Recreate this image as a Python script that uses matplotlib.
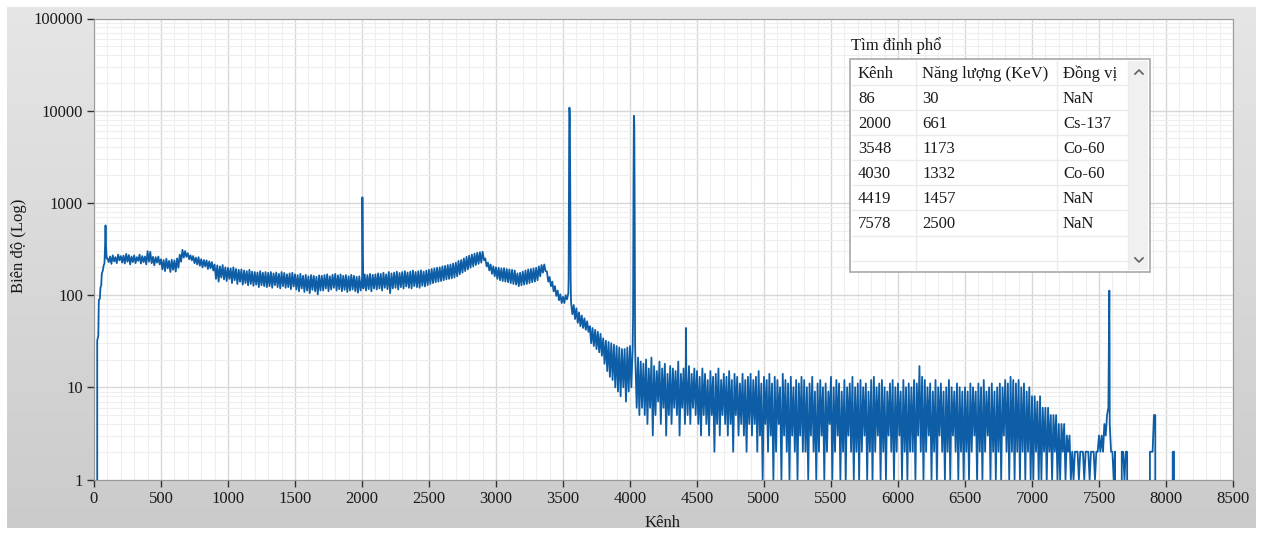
import numpy as np
import matplotlib
matplotlib.use("Agg")
import matplotlib.pyplot as plt
from matplotlib.ticker import MultipleLocator, LogLocator, FuncFormatter, NullFormatter

plt.rcParams['font.family'] = ['Liberation Serif', 'DejaVu Serif']

W, H = 1263, 533

# spectrum, channels 100, 120, ..., 8100 (upper side of the noise)
counts_even = [
    250, 262, 270, 258, 275, 265, 268, 280, 272, 262, 270, 258, 275, 265, 262, 300, 295, 260, 258, 262,
    245, 240, 248, 235, 242, 238, 250, 275, 310, 300, 285, 270, 265, 255, 258, 245, 240, 238, 232, 228,
    215, 210, 205, 212, 200, 198, 195, 200, 192, 188, 190, 185, 182, 188, 180, 178, 176, 182, 175, 178,
    175, 178, 172, 176, 170, 178, 174, 168, 172, 175, 168, 165, 170, 162, 166, 160, 165, 162, 158, 164,
    162, 165, 168, 160, 166, 170, 164, 168, 162, 165, 160, 166, 162, 158, 160, 150, 168, 165, 170, 166,
    168, 172, 170, 175, 168, 178, 172, 176, 180, 174, 178, 182, 176, 180, 185, 178, 182, 186, 180, 185,
    188, 192, 195, 198, 200, 205, 208, 212, 215, 220, 225, 235, 240, 250, 260, 268, 275, 282, 288, 292,
    295, 250, 225, 215, 205, 200, 198, 195, 196, 192, 190, 188, 185, 172, 175, 180, 185, 190, 192, 195,
    198, 205, 212, 215, 180, 157, 140, 125, 112, 102, 96, 100, 105, 84, 78, 72, 65, 60, 56, 52,
    46, 44, 42, 40, 38, 34, 32, 31, 30, 29, 28, 27, 26, 26, 27, 28, 27, 20, 21, 19,
    18, 20, 16, 21, 17, 15, 19, 16, 18, 14, 17, 16, 15, 19, 14, 16, 15, 17, 14, 16,
    15, 13, 16, 14, 12, 15, 13, 14, 16, 12, 14, 13, 15, 12, 14, 13, 11, 14, 12, 13,
    14, 12, 13, 15, 11, 13, 12, 14, 11, 13, 12, 10, 14, 12, 11, 13, 10, 12, 11, 13,
    12, 10, 11, 13, 9, 11, 12, 10, 11, 9, 13, 10, 12, 11, 9, 12, 10, 11, 13, 10,
    11, 12, 10, 11, 9, 12, 13, 10, 11, 12, 10, 9, 11, 12, 10, 11, 9, 12, 10, 11,
    10, 12, 11, 17, 13, 12, 10, 11, 9, 12, 10, 11, 9, 10, 12, 10, 9, 11, 10, 9,
    10, 9, 11, 10, 9, 11, 10, 12, 9, 10, 11, 9, 10, 11, 10, 12, 11, 13, 12, 11,
    12, 10, 11, 9, 10, 8, 8, 7, 8, 6, 6, 6, 5, 5, 5, 4, 4, 4, 3, 3,
    2, 2, 2, 2, 2, 2, 2, 2, 2, 2, 3, 3, 4, 5, 4, 2, 2, 0, 0, 2,
    2, 0, 0, 0, 0, 0, 0, 0, 0, 2, 2, 5, 0, 0, 0, 0, 0, 0, 2, 0,
    0,
]

# channels 110, 130, ..., 8090 (lower side of the noise)
counts_odd = [
    228, 218, 232, 222, 238, 225, 220, 230, 215, 228, 222, 235, 220, 228, 215, 230, 222, 210, 225, 215,
    190, 182, 195, 178, 188, 180, 198, 230, 255, 260, 245, 238, 222, 215, 208, 200, 205, 192, 195, 185,
    150, 140, 155, 148, 142, 150, 135, 145, 132, 140, 130, 135, 128, 132, 126, 130, 122, 128, 125, 122,
    125, 120, 128, 122, 118, 125, 120, 122, 116, 124, 115, 110, 118, 108, 112, 105, 114, 110, 102, 112,
    112, 118, 110, 115, 120, 112, 116, 110, 114, 108, 112, 115, 110, 106, 112, 118, 112, 116, 110, 118,
    115, 118, 112, 120, 116, 105, 118, 120, 115, 122, 118, 124, 120, 118, 125, 122, 120, 126, 124, 128,
    132, 135, 138, 140, 142, 145, 148, 150, 152, 155, 160, 168, 175, 182, 190, 198, 205, 212, 218, 225,
    240, 205, 185, 170, 160, 150, 145, 142, 140, 138, 135, 132, 130, 125, 128, 130, 132, 135, 138, 140,
    145, 160, 175, 182, 140, 125, 110, 98, 88, 82, 82, 90, 9500, 62, 55, 50, 46, 44, 42, 40,
    30, 28, 26, 24, 22, 18, 15, 13, 12, 10, 9, 8, 10, 7, 9, 10, 8600, 6, 5, 6,
    5, 4, 6, 3, 5, 7, 4, 6, 3, 5, 4, 6, 5, 3, 6, 4, 5, 4, 6, 5,
    4, 3, 5, 4, 3, 5, 2, 4, 3, 5, 4, 3, 4, 2, 5, 3, 4, 3, 2, 4,
    3, 4, 2, 3, 1, 4, 2, 3, 1, 2, 4, 1, 3, 2, 1, 3, 2, 1, 3, 2,
    2, 1, 3, 2, 1, 2, 3, 1, 2, 4, 1, 2, 3, 1, 2, 1, 3, 2, 1, 2,
    1, 2, 3, 1, 2, 1, 2, 3, 1, 2, 1, 3, 2, 1, 2, 3, 1, 2, 1, 2,
    2, 1, 3, 2, 1, 2, 3, 1, 2, 1, 3, 2, 1, 2, 1, 3, 2, 1, 2, 1,
    2, 1, 2, 3, 1, 2, 1, 2, 3, 1, 2, 1, 2, 1, 3, 2, 1, 2, 1, 2,
    1, 2, 1, 2, 1, 1, 2, 1, 1, 2, 1, 2, 1, 2, 1, 1, 2, 1, 2, 1,
    1, 2, 1, 2, 1, 2, 1, 2, 1, 2, 2, 2, 3, 6, 2, 1, 0, 0, 2, 1,
    2, 0, 0, 0, 0, 0, 0, 0, 0, 2, 5, 0, 0, 0, 0, 0, 0, 2, 0, 0,
]

# low-energy edge and X-ray peak
edge_channels = [0, 22, 24, 32, 36, 44, 48, 54, 58, 66, 72, 78, 82, 86, 90, 94]
edge_counts = [0, 0, 32, 36, 88, 92, 120, 128, 170, 185, 210, 220, 320, 570, 330, 250]

# narrow photopeaks
peak_channels = [2001, 2003, 2006, 2009,
                 3542, 3544, 3546, 3548, 3551, 3554, 3557,
                 4023, 4026, 4029, 4032, 4035, 4038,
                 4416, 4418,
                 7574, 7577, 7579]
peak_counts = [160, 1150, 300, 150,
               150, 1200, 6000, 10800, 8000, 1500, 150,
               60, 1500, 8800, 7000, 800, 30,
               12, 44,
               40, 112, 30]

# peak table
tbl_channel = [86, 2000, 3548, 4030, 4419, 7578]
tbl_energy = [30, 661, 1173, 1332, 1457, 2500]
tbl_isotope = ['NaN', 'Cs-137', 'Co-60', 'Co-60', 'NaN', 'NaN']
tbl_header = ['Kênh', 'Năng lượng (KeV)', 'Đồng vị']

even_ch = 100 + 20 * np.arange(len(counts_even))
odd_ch = 110 + 20 * np.arange(len(counts_odd))
ch = np.concatenate([edge_channels, even_ch, odd_ch, peak_channels])
ct = np.concatenate([edge_counts, counts_even, counts_odd, peak_counts]).astype(float)
order = np.argsort(ch, kind='stable')
ch, ct = ch[order], ct[order]

fig = plt.figure(figsize=(W / 100, H / 100), dpi=100)

# gray gradient panel behind everything
bg = fig.add_axes([0, 0, 1, 1])
bg.set_zorder(0)
bg.axis('off')
grad = np.linspace(0, 1, 256)[:, None]
cmap = matplotlib.colors.LinearSegmentedColormap.from_list('g', ['#e6e6e6', '#cbcbcb'])
bg.imshow(grad, cmap=cmap, extent=[7, 1256, 528, 7], aspect='auto')
bg.set_xlim(0, W)
bg.set_ylim(H, 0)


def frac(x, y):
    return x / W, 1 - y / H


left, top = frac(94, 18.5)
right, bottom = frac(1233, 479.5)
ax = fig.add_axes([left, bottom, right - left, top - bottom])
ax.set_zorder(1)
ax.set_facecolor('white')

ax.plot(ch, ct, color='#0d5ea6', lw=1.3, zorder=3)
ax.set_yscale('log')
ax.set_xlim(0, 8500)
ax.set_ylim(1, 100000)

ax.xaxis.set_major_locator(MultipleLocator(500))
ax.xaxis.set_minor_locator(MultipleLocator(100))
ax.yaxis.set_major_locator(LogLocator(base=10))
ax.yaxis.set_minor_locator(LogLocator(base=10, subs=np.arange(2, 10)))
ax.yaxis.set_major_formatter(FuncFormatter(lambda v, _: f'{v:g}'))
ax.yaxis.set_minor_formatter(NullFormatter())

ax.grid(which='major', color='#d8d8d8', lw=1.0, zorder=0)
ax.grid(which='minor', color='#eeeeee', lw=0.8, zorder=0)
ax.set_axisbelow(True)
ax.tick_params(which='major', direction='out', length=5, width=1, color='#303030',
               labelsize=12, labelcolor='#1a1a1a', pad=3)
ax.tick_params(which='minor', length=0)
for s in ax.spines.values():
    s.set_color('#9a9a9a')
    s.set_linewidth(0.8)

# overlay for labels and the peak table, in pixel coordinates
ov = fig.add_axes([0, 0, 1, 1])
ov.set_zorder(2)
ov.axis('off')
ov.set_xlim(0, W)
ov.set_ylim(H, 0)
ov.patch.set_alpha(0)

ov.text(19, 246, 'Biên độ (Log)', rotation=90, ha='center', va='center', fontsize=12, color='#1a1a1a')
ov.text(663, 523, 'Kênh', ha='center', va='center', fontsize=12, color='#1a1a1a')

ov.text(851, 46, 'Tìm đỉnh phổ', ha='left', va='center', fontsize=12, color='#1a1a1a')
ov.add_patch(plt.Rectangle((850, 59), 300, 213, facecolor='white', edgecolor='#a8a8a8', lw=1.2))
ov.add_patch(plt.Rectangle((1129, 61), 19, 209, facecolor='#f0f0f0', edgecolor='none'))
for y in [85, 110, 135, 160, 185, 210, 236, 261]:
    ov.plot([852, 1128], [y, y], color='#ebebeb', lw=1)
for x in [916, 1057, 1128]:
    ov.plot([x, x], [61, 270], color='#ebebeb', lw=1)
ov.plot([1135, 1139, 1143], [74, 70, 74], color='#606060', lw=1.2)
ov.plot([1135, 1139, 1143], [258, 262, 258], color='#606060', lw=1.2)

col_x = [858, 922, 1063]
for x, t in zip(col_x, tbl_header):
    ov.text(x, 74, t, ha='left', va='center', fontsize=12, color='#1a1a1a')
for i, (c, e, iso) in enumerate(zip(tbl_channel, tbl_energy, tbl_isotope)):
    y = 99 + 25 * i
    for x, t in zip(col_x, [str(c), str(e), iso]):
        ov.text(x, y, t, ha='left', va='center', fontsize=12, color='#1a1a1a')

fig.savefig('out.png', dpi=100, facecolor='white')
